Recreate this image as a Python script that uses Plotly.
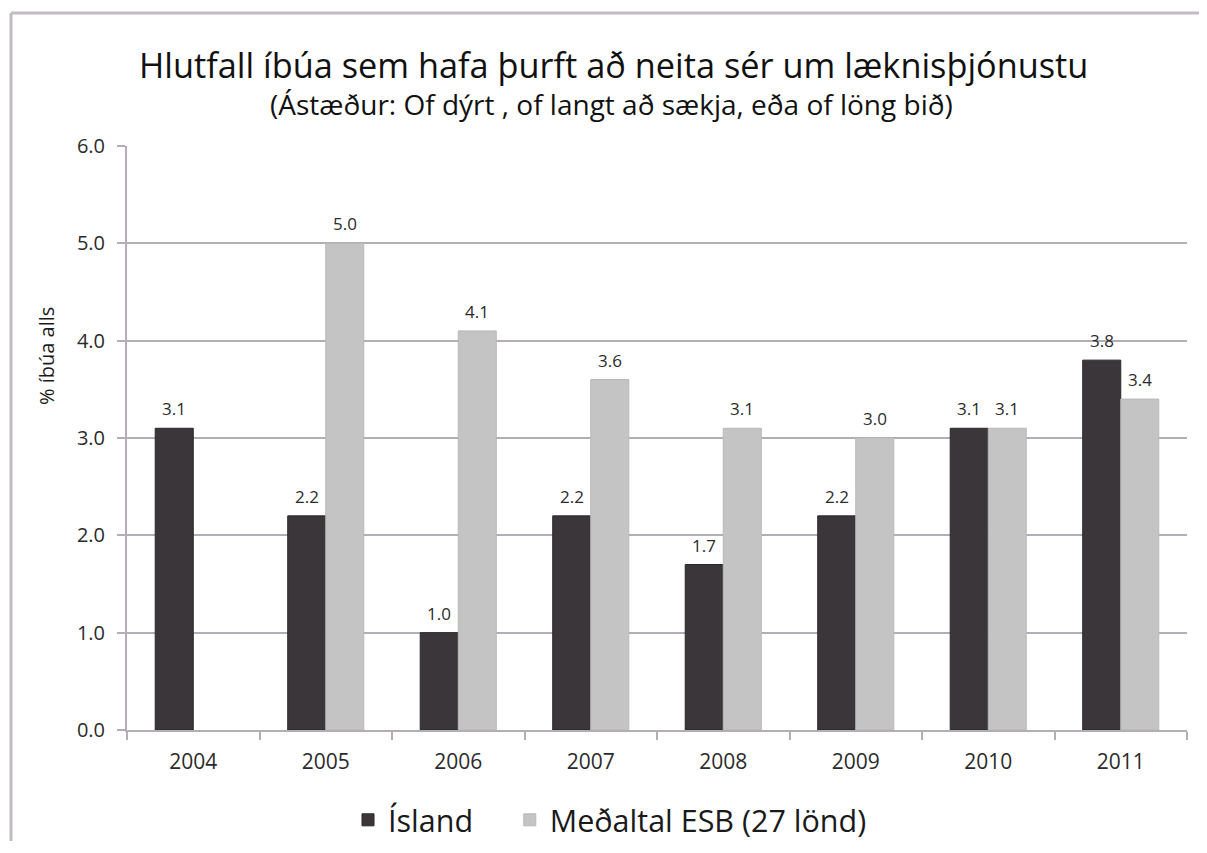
import plotly.graph_objects as go

years = ["2004", "2005", "2006", "2007", "2008", "2009", "2010", "2011"]
island = [3.1, 2.2, 1.0, 2.2, 1.7, 2.2, 3.1, 3.8]
esb = [None, 5.0, 4.1, 3.6, 3.1, 3.0, 3.1, 3.4]
ytick_vals = [0, 1, 2, 3, 4, 5, 6]
ytick_text = ["0.0", "1.0", "2.0", "3.0", "4.0", "5.0", "6.0"]

FONT = "Open Sans"
# page has an 8px body margin; figure sized to fit in the viewport
OFF = 8
W, H = 1207 - 2 * OFF, 853 - 2 * OFF - 4
L, T = 127 - OFF, 146 - OFF
R = W - (1187 - OFF)
B = H - (730 - OFF)
pw = W - L - R
ph = H - T - B

def px(page_x):
    return (page_x - OFF - L) / pw

def py(page_y):
    return 1 - (page_y - OFF - T) / ph

def fmt(v):
    return "" if v is None else f"{v:.1f}"

fig = go.Figure()
fig.add_trace(go.Bar(
    x=years, y=island, name="Ísland\u00a0\u00a0\u00a0\u00a0",
    marker=dict(color="#3b363a", line=dict(color="#2a2629", width=1)),
))
fig.add_trace(go.Bar(
    x=years, y=esb, name="Meðaltal ESB (27 lönd)",
    marker=dict(color="#c4c4c4", line=dict(color="#b8b8b8", width=1)),
))

# value labels above the bars, positioned on the data scale (category index)
label_annotations = []
for series, shift in ((island, -19), (esb, 19)):
    for i, v in enumerate(series):
        if v is None:
            continue
        label_annotations.append(dict(
            x=i, y=v, xref="x", yref="y", text=fmt(v), showarrow=False,
            xshift=shift, yshift=6, xanchor="center", yanchor="bottom",
            font=dict(family=FONT, size=17, color="#2b2b2b"),
        ))

fig.update_layout(
    width=W, height=H,
    margin=dict(l=L, r=R, t=T, b=B, autoexpand=False),
    paper_bgcolor="white", plot_bgcolor="white",
    barmode="group", bargap=0.426, bargroupgap=0,
    font=dict(family=FONT, color="#2b2b2b"),
    showlegend=True,
    legend=dict(orientation="h", x=px(348), xanchor="left", y=py(820), yanchor="middle",
                font=dict(family=FONT, size=30.5, color="#1a1a1a"),
                itemwidth=30, traceorder="normal"),
    xaxis=dict(
        type="category", categoryorder="array", categoryarray=years,
        range=[-0.5, len(years) - 0.5], autorange=False,
        showgrid=False, showline=True, linecolor="#b3aeb5", linewidth=2,
        ticks="outside", tickson="boundaries", ticklen=8, tickcolor="#b3aeb5", tickwidth=2,
        tickfont=dict(family=FONT, size=21, color="#2b2b2b"), ticklabelstandoff=12,
        tickangle=0,
    ),
    yaxis=dict(
        range=[0, 6], tickvals=ytick_vals, ticktext=ytick_text,
        showgrid=True, gridcolor="#b3aeb5", gridwidth=2,
        showline=True, linecolor="#b3aeb5", linewidth=2,
        ticks="outside", ticklen=8, tickcolor="#b3aeb5", tickwidth=2,
        tickfont=dict(family=FONT, size=20, color="#2b2b2b"), ticklabelstandoff=8,
        zeroline=False,
    ),
    annotations=label_annotations + [
        dict(text="Hlutfall íbúa sem hafa þurft að neita sér um læknisþjónustu",
             xref="paper", yref="paper", x=px(613), y=py(64),
             xanchor="center", yanchor="middle", showarrow=False,
             font=dict(family=FONT, size=34.3, color="#111111")),
        dict(text="(Ástæður: Of dýrt , of langt að sækja, eða of löng bið)",
             xref="paper", yref="paper", x=px(611), y=py(104),
             xanchor="center", yanchor="middle", showarrow=False,
             font=dict(family=FONT, size=28, color="#111111")),
        dict(text="% íbúa alls", textangle=-90,
             xref="paper", yref="paper", x=px(46), y=py(356),
             xanchor="center", yanchor="middle", showarrow=False,
             font=dict(family=FONT, size=20, color="#1a1a1a")),
    ],
    shapes=[
        dict(type="line", xref="paper", yref="paper",
             x0=px(11), x1=px(OFF + W), y0=py(13), y1=py(13),
             line=dict(color="#c0bcc2", width=3), layer="below"),
        dict(type="line", xref="paper", yref="paper",
             x0=px(11), x1=px(11), y0=py(13), y1=py(OFF + H),
             line=dict(color="#c0bcc2", width=3), layer="below"),
    ],
)

fig.write_html("out.html")
